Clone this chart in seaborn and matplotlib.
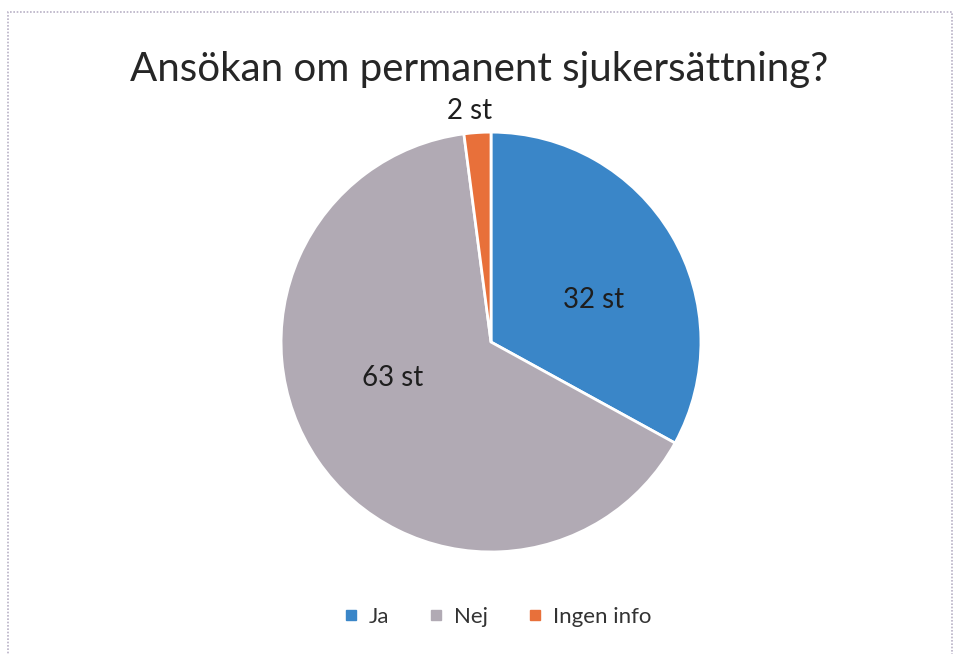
import matplotlib
matplotlib.use("Agg")
import matplotlib.pyplot as plt
import seaborn as sns
from matplotlib.patches import Rectangle
from matplotlib.lines import Line2D

# Data
categories = ["Ja", "Nej", "Ingen info"]
counts = [32, 63, 2]
colors = ["#3a86c8", "#b1aab4", "#e8703a"]
title = "Ansökan om permanent sjukersättning?"

sns.set_theme(style="white")
plt.rcParams['font.family'] = ['Lato', 'DejaVu Sans']

fig = plt.figure(figsize=(9.59, 6.54), dpi=100)
fig.patch.set_facecolor("white")

# Dotted chart border
fig.add_artist(Rectangle((8 / 959, -0.01), 944 / 959, 1 - 12 / 654 + 0.01,
                         transform=fig.transFigure, fill=False,
                         edgecolor="#b9b1c6", linestyle=(0, (1, 1)), linewidth=1.2))

fig.text(0.5, 1 - 70 / 654, title, ha="center", va="center", fontsize=29, color="#262626")

ax = fig.add_axes([0.293, 0.156, 0.438, 0.642])
total = sum(counts)
wedges, texts, autotexts = ax.pie(
    counts, colors=colors, startangle=90, counterclock=False,
    wedgeprops=dict(edgecolor="white", linewidth=2),
    autopct=lambda p: f"{round(p * total / 100)} st", pctdistance=0.5,
    textprops=dict(fontsize=20, color="#1e1e1e"))
ax.set_xlim(-1, 1)
ax.set_ylim(-1, 1)
ax.set_aspect("equal")

# Label positions (Excel-like)
autotexts[0].set_position((0.49, 0.2))
autotexts[1].set_position((-0.47, -0.17))
autotexts[2].set_position((-0.1, 1.10))

handles = [Line2D([0], [0], marker="s", linestyle="", markersize=7,
                  markerfacecolor=c, markeredgecolor=c) for c in colors]
fig.legend(handles, categories, loc="center", bbox_to_anchor=(0.518, 1 - 617 / 654),
           ncol=3, frameon=False, fontsize=16, handlelength=0.8, handletextpad=0.4,
           columnspacing=1.7, labelcolor="#333333")

fig.savefig("out.png", dpi=100, facecolor="white")
